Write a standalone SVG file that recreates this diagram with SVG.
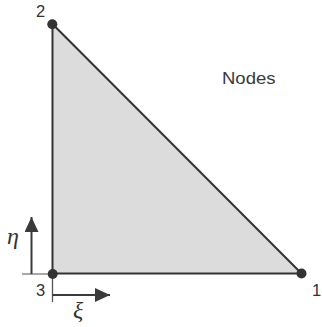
<svg xmlns="http://www.w3.org/2000/svg" width="322" height="327" viewBox="0 0 322 327">
<style>
.edge{stroke:#333;stroke-width:2;fill:none}
.axis{stroke:#3a3a3a;stroke-width:2;fill:none}
.node{fill:#333}
.lbl{font-family:"Liberation Sans",Arial,sans-serif;font-size:16.5px;fill:#333}
.greek{font-family:"Liberation Serif","Times New Roman",serif;font-style:italic;font-size:24px;fill:#333}
</style>
<defs>
<marker id="arr" markerWidth="16" markerHeight="14" refX="15" refY="7" orient="auto" markerUnits="userSpaceOnUse">
<path d="M0,0 L15,7 L0,14 Z" fill="#3a3a3a"/>
</marker>
</defs>
<rect width="322" height="327" fill="#fff"/>
<polygon points="52.5,24 301.5,273.5 52.5,273.5" fill="#dcdcdc"/>
<g id="connectors">
<line class="edge" x1="52.5" y1="24" x2="52.5" y2="273.5"/>
<line class="edge" x1="52.5" y1="273.5" x2="301.5" y2="273.5"/>
<line class="edge" x1="52.5" y1="24" x2="301.5" y2="273.5"/>
<line x1="22" y1="274" x2="52.5" y2="274" stroke="#8a8a8a" stroke-width="1.5"/>
<line x1="52.5" y1="274" x2="52.5" y2="302" stroke="#555" stroke-width="1.3"/>
<line class="axis" id="eta-axis" x1="31.5" y1="274" x2="31.5" y2="217" marker-end="url(#arr)"/>
<line class="axis" id="xi-axis" x1="52.5" y1="295" x2="110" y2="295" marker-end="url(#arr)"/>
</g>
<g id="node1"><circle class="node" cx="301.5" cy="273.5" r="5"/><text class="lbl" x="312" y="295.5">1</text></g>
<g id="node2"><circle class="node" cx="52.3" cy="24.3" r="5"/><text class="lbl" x="36" y="17">2</text></g>
<g id="node3"><circle class="node" cx="52.7" cy="274" r="5"/><text class="lbl" x="36" y="295.5">3</text></g>
<text class="greek" x="7" y="244">η</text>
<text class="greek" x="73" y="318">ξ</text>
<text x="222" y="84.3" font-family="'Liberation Sans',Arial,sans-serif" font-size="17" fill="#3a3a3a" textLength="53.5" lengthAdjust="spacingAndGlyphs">Nodes</text>
</svg>
